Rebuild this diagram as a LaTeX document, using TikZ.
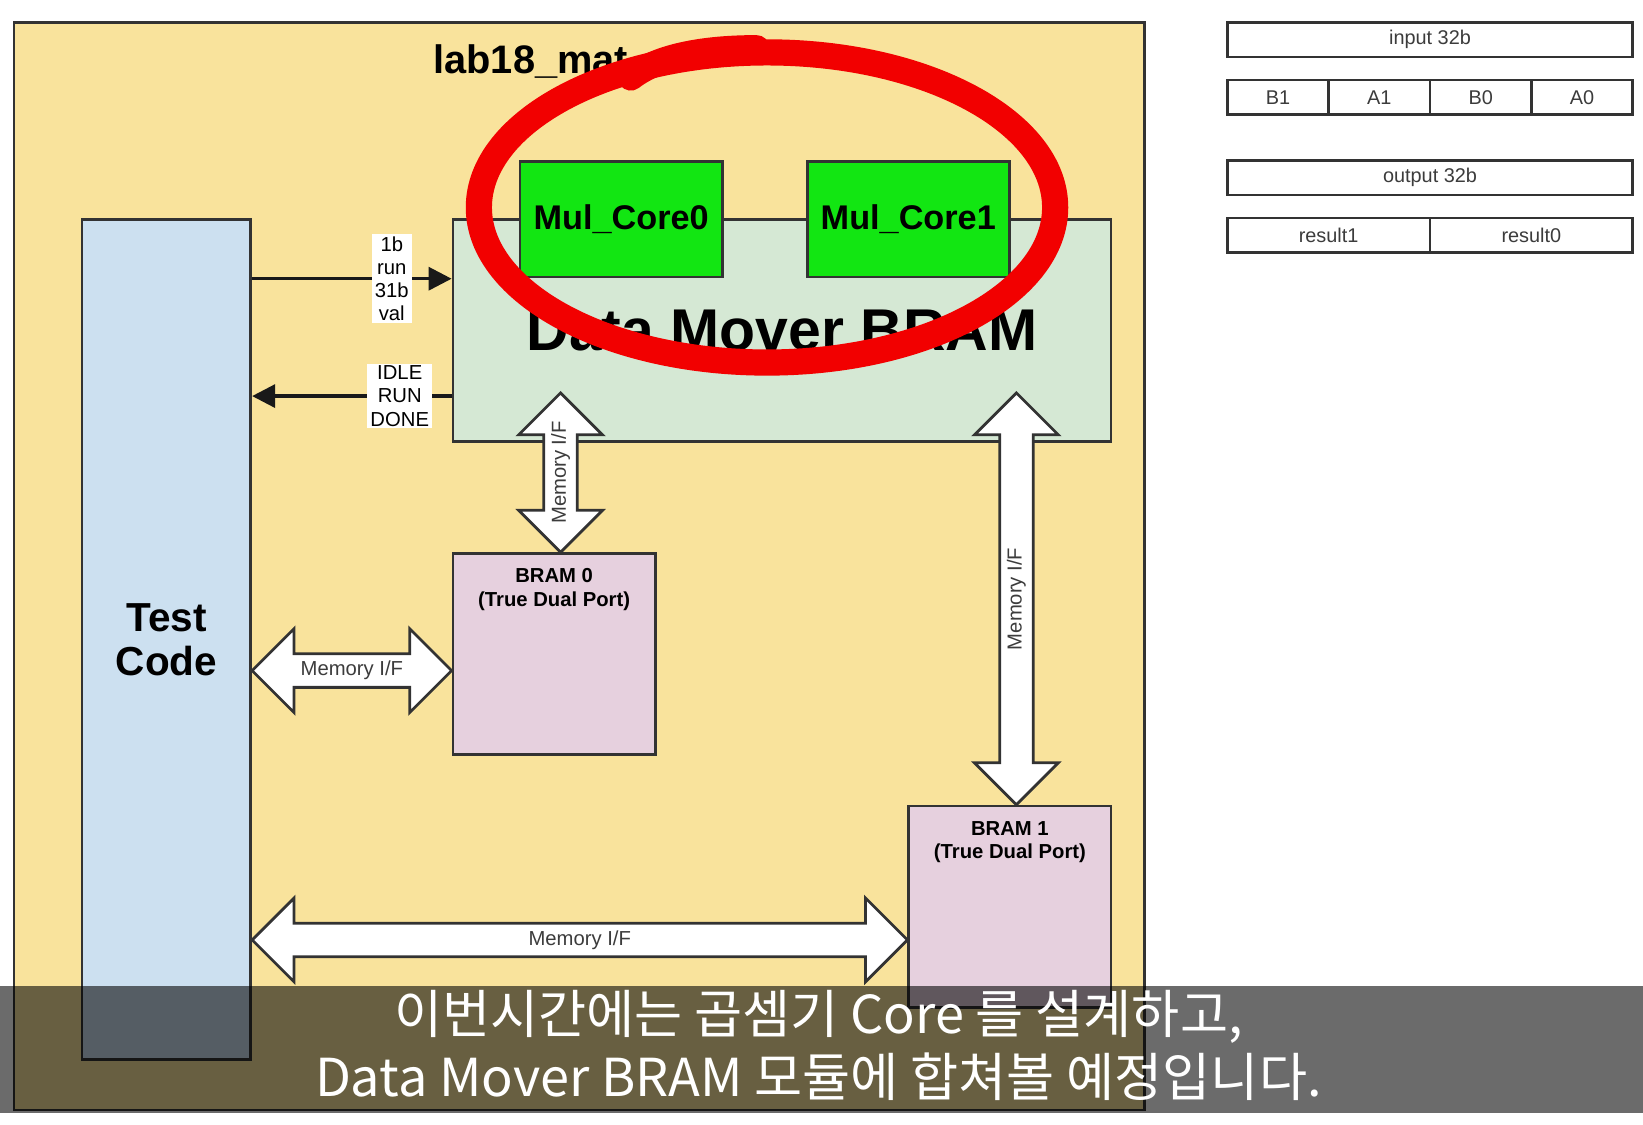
\documentclass[tikz,border=0pt]{standalone}
\usepackage{fontspec}
\setmainfont{Liberation Sans}
\newfontfamily\krfont{Noto Sans CJK KR}
\usepackage{tikz}
\usetikzlibrary{arrows.meta, positioning, calc}
\definecolor{colFrame}{HTML}{F9E39C}
\definecolor{colTest} {HTML}{CCE0F0}
\definecolor{colMover}{HTML}{D5E8D4}
\definecolor{colCore} {HTML}{12E612}
\definecolor{colBram} {HTML}{E6D0DE}
\definecolor{colLine} {HTML}{333333}
\definecolor{colLabel}{HTML}{3C3C3C}
\definecolor{colMark} {HTML}{F20000}
\tikzset{
  block/.style={
    draw=colLine, line width=0.75pt,
    inner sep=0pt, anchor=north west
  },
  testblk/.style ={block, fill=colTest, align=center,
    font=\fontsize{11}{12}\selectfont\bfseries},
  moverblk/.style={block, fill=colMover,
    font=\fontsize{16}{18}\selectfont\bfseries},
  coreblk/.style ={block, fill=colCore,
    minimum width=19.3mm, minimum height=11mm,
    font=\fontsize{9.3}{11}\selectfont\bfseries},
  bramblk/.style ={block, fill=colBram,
    minimum width=19.3mm, minimum height=19.2mm},
  bramtxt/.style ={align=center, inner sep=0pt,
    font=\fontsize{5.5}{6.4}\selectfont\bfseries},
  sigarr/.style={
    -{Triangle[length=2.2mm,width=2.2mm]},
    line width=0.9pt, draw=black!90
  },
  siglbl/.style={
    fill=white, inner xsep=0.3mm, inner ysep=0.2mm,
    align=center, font=\fontsize{5.5}{6.3}\selectfont
  },
  % fat double arrows (memory interfaces)
  memif/.style={draw=colLine, line width=0.75pt, fill=white},
  memlbl/.style={inner sep=0pt, text=colLabel,
    font=\fontsize{5.5}{6.5}\selectfont},
  field/.style={
    draw=colLine, line width=0.7pt, fill=white,
    minimum height=3.3mm, inner sep=0pt, anchor=north west,
    text=colLabel, font=\fontsize{5.4}{6}\selectfont
  },
  redmark/.style={draw=colMark, line width=2.5mm}
}
\newcommand{\vmemif}[2]{%
  \draw[memif] (#1) -- ++(4mm,-4mm) -- ++(-2.4mm,0)
    -- ($(#2)+(1.6mm,4mm)$) -- ++(2.4mm,0) -- (#2)
    -- ++(-4mm,4mm) -- ++(2.4mm,0)
    -- ($(#1)+(-1.6mm,-4mm)$) -- ++(-2.4mm,0) -- cycle;}
\newcommand{\hmemif}[2]{%
  \draw[memif] (#1) -- ++(4mm,4mm) -- ++(0,-2.4mm)
    -- ($(#2)+(-4mm,1.6mm)$) -- ++(0,2.4mm) -- (#2)
    -- ++(-4mm,-4mm) -- ++(0,2.4mm)
    -- ($(#1)+(4mm,-1.6mm)$) -- ++(0,-2.4mm) -- cycle;}
\begin{document}
\begin{tikzpicture}[x=0.1mm, y=-0.1mm]
  \useasboundingbox[fill=white] (0,0) rectangle (1568,1073);
  \node[block, fill=colFrame, minimum width=107.9mm, minimum height=103.8mm] (top) at (12,20) {};
  \node[anchor=base west, inner sep=0pt, font=\fontsize{10.8}{13}\selectfont\bfseries] (title) at (413,70) {lab18\_mat};
  \node[testblk, minimum width=16.1mm, minimum height=80.2mm] (tc) at (77,208) {Test\\Code};
  \node[moverblk, minimum width=62.8mm, minimum height=21.2mm] (dm) at (431,208) {Data Mover BRAM};
  \node[coreblk] (core0) at (495,153) {Mul\_Core0};
  \node[coreblk] (core1) at (769,153) {Mul\_Core1};
  \node[bramblk] (bram0) at (431,527) {};
  \node[bramblk] (bram1) at (866,768) {};
  \node[bramtxt, below=1.5mm of bram0.north] (bram0t) {BRAM 0\\(True Dual Port)};
  \node[bramtxt, below=1.5mm of bram1.north] (bram1t) {BRAM 1\\(True Dual Port)};
  % control / status
  \draw[sigarr] ([yshift=-5.8mm]tc.north east) -- ([yshift=-5.8mm]dm.north west)
    node[siglbl, pos=0.7] (runlbl) {1b\\run\\31b\\val};
  \draw[sigarr] ([yshift=-17mm]dm.north west) -- ([yshift=-17mm]tc.north east)
    node[siglbl, pos=0.26] (statlbl) {IDLE\\RUN\\DONE};
  % memory interfaces
  \coordinate (m0top) at (535,375);
  \coordinate (m0bot) at (m0top |- bram0.north);
  \vmemif{m0top}{m0bot}
  \node[memlbl, rotate=90] (m0lbl) at ($(m0top)!0.5!(m0bot)$) {Memory I/F};
  \coordinate (m1top) at (970,375);
  \coordinate (m1bot) at (m1top |- bram1.north);
  \vmemif{m1top}{m1bot}
  \node[memlbl, rotate=90] (m1lbl) at ($(m1top)!0.5!(m1bot)$) {Memory I/F};
  \coordinate (h0r) at ([yshift=-11.3mm]bram0.north west);
  \coordinate (h0l) at (h0r -| tc.east);
  \hmemif{h0l}{h0r}
  \node[memlbl] (h0lbl) at ($(h0l)!0.5!(h0r)$) {Memory I/F};
  \coordinate (h1r) at ([yshift=-12.9mm]bram1.north west);
  \coordinate (h1l) at (h1r -| tc.east);
  \hmemif{h1l}{h1r}
  \node[memlbl] (h1lbl) at ($(h1l)!0.5!(h1r)$) {Memory I/F};
  % hand-drawn mark
  \draw[redmark] (732,198) ellipse [x radius=27.5mm, y radius=14.8mm];
  \draw[redmark, line cap=round] (602,74) .. controls (625,56) and (665,46) .. (722,46);
  % bit fields
  \node[field, minimum width=38.7mm] (in32) at (1170,20) {input 32b};
  \foreach \nm [count=\i from 0] in {B1,A1,B0,A0}
    \node[field, minimum width=9.675mm] (in\nm) at (1170+96.75*\i,75) {\nm};
  \node[field, minimum width=38.7mm] (out32) at (1170,152) {output 32b};
  \node[field, minimum width=19.35mm] (res1) at (1170,207) {result1};
  \node[field, minimum width=19.35mm] (res0) at (1363.5,207) {result0};
  % caption band
  \fill[black, opacity=0.58] (0,941) rectangle (1568,1062);
  \node[text=white, align=center, font=\krfont\fontsize{14.2}{17}\selectfont] (sub) at (781,998)
    {이번시간에는 곱셈기 Core 를 설계하고,\\Data Mover BRAM 모듈에 합쳐볼 예정입니다.};
\end{tikzpicture}
\end{document}
